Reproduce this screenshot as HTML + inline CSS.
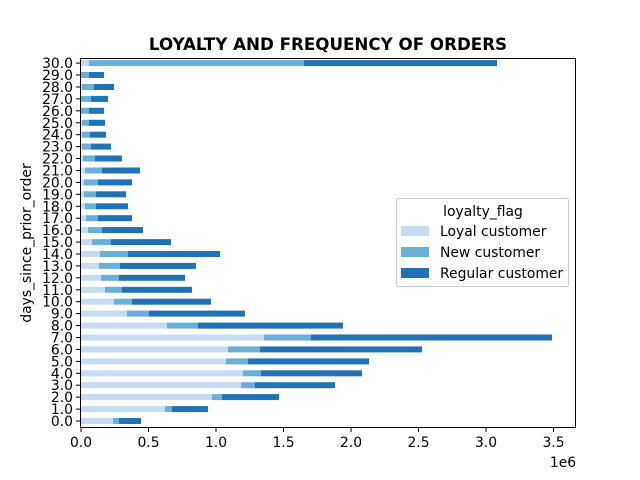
<!DOCTYPE html>
<html><head><meta charset="utf-8"><style>body{margin:0;background:#fff}svg{display:block}text{font-family:"DejaVu Sans","Liberation Sans",sans-serif;fill:#000}</style></head>
<body>
<svg width="640" height="480" xmlns="http://www.w3.org/2000/svg">
<rect width="640" height="480" fill="#fff"/>
<g>
<g transform="translate(0,418)"><rect x="81" width="32" height="6" fill="#c6dbef"/><rect x="113" width="6" height="6" fill="#6baed6"/><rect x="119" width="22" height="6" fill="#2171b5"/></g>
<g transform="translate(0,406.1)"><rect x="81" width="84" height="6" fill="#c6dbef"/><rect x="165" width="7" height="6" fill="#6baed6"/><rect x="172" width="36" height="6" fill="#2171b5"/></g>
<g transform="translate(0,394.1)"><rect x="81" width="131" height="6" fill="#c6dbef"/><rect x="212" width="10" height="6" fill="#6baed6"/><rect x="222" width="57" height="6" fill="#2171b5"/></g>
<g transform="translate(0,382.2)"><rect x="81" width="160" height="6" fill="#c6dbef"/><rect x="241" width="14" height="6" fill="#6baed6"/><rect x="255" width="80" height="6" fill="#2171b5"/></g>
<g transform="translate(0,370.3)"><rect x="81" width="162" height="6" fill="#c6dbef"/><rect x="243" width="18" height="6" fill="#6baed6"/><rect x="261" width="101" height="6" fill="#2171b5"/></g>
<g transform="translate(0,358.4)"><rect x="81" width="145" height="6" fill="#c6dbef"/><rect x="226" width="22" height="6" fill="#6baed6"/><rect x="248" width="121" height="6" fill="#2171b5"/></g>
<g transform="translate(0,346.4)"><rect x="81" width="147" height="6" fill="#c6dbef"/><rect x="228" width="32" height="6" fill="#6baed6"/><rect x="260" width="162" height="6" fill="#2171b5"/></g>
<g transform="translate(0,334.5)"><rect x="81" width="183" height="6" fill="#c6dbef"/><rect x="264" width="47" height="6" fill="#6baed6"/><rect x="311" width="241" height="6" fill="#2171b5"/></g>
<g transform="translate(0,322.6)"><rect x="81" width="86" height="6" fill="#c6dbef"/><rect x="167" width="31" height="6" fill="#6baed6"/><rect x="198" width="145" height="6" fill="#2171b5"/></g>
<g transform="translate(0,310.6)"><rect x="81" width="46" height="6" fill="#c6dbef"/><rect x="127" width="22" height="6" fill="#6baed6"/><rect x="149" width="96" height="6" fill="#2171b5"/></g>
<g transform="translate(0,298.7)"><rect x="81" width="33" height="6" fill="#c6dbef"/><rect x="114" width="18" height="6" fill="#6baed6"/><rect x="132" width="79" height="6" fill="#2171b5"/></g>
<g transform="translate(0,286.8)"><rect x="81" width="24" height="6" fill="#c6dbef"/><rect x="105" width="17" height="6" fill="#6baed6"/><rect x="122" width="70" height="6" fill="#2171b5"/></g>
<g transform="translate(0,274.8)"><rect x="81" width="20" height="6" fill="#c6dbef"/><rect x="101" width="18" height="6" fill="#6baed6"/><rect x="119" width="66" height="6" fill="#2171b5"/></g>
<g transform="translate(0,262.9)"><rect x="81" width="18" height="6" fill="#c6dbef"/><rect x="99" width="21" height="6" fill="#6baed6"/><rect x="120" width="76" height="6" fill="#2171b5"/></g>
<g transform="translate(0,251)"><rect x="81" width="19" height="6" fill="#c6dbef"/><rect x="100" width="28" height="6" fill="#6baed6"/><rect x="128" width="92" height="6" fill="#2171b5"/></g>
<g transform="translate(0,239.1)"><rect x="81" width="11" height="6" fill="#c6dbef"/><rect x="92" width="19" height="6" fill="#6baed6"/><rect x="111" width="60" height="6" fill="#2171b5"/></g>
<g transform="translate(0,227.1)"><rect x="81" width="7" height="6" fill="#c6dbef"/><rect x="88" width="14" height="6" fill="#6baed6"/><rect x="102" width="41" height="6" fill="#2171b5"/></g>
<g transform="translate(0,215.2)"><rect x="81" width="5" height="6" fill="#c6dbef"/><rect x="86" width="12" height="6" fill="#6baed6"/><rect x="98" width="34" height="6" fill="#2171b5"/></g>
<g transform="translate(0,203.3)"><rect x="81" width="4" height="6" fill="#c6dbef"/><rect x="85" width="11" height="6" fill="#6baed6"/><rect x="96" width="32" height="6" fill="#2171b5"/></g>
<g transform="translate(0,191.3)"><rect x="81" width="3" height="6" fill="#c6dbef"/><rect x="84" width="12" height="6" fill="#6baed6"/><rect x="96" width="30" height="6" fill="#2171b5"/></g>
<g transform="translate(0,179.4)"><rect x="81" width="3" height="6" fill="#c6dbef"/><rect x="84" width="14" height="6" fill="#6baed6"/><rect x="98" width="34" height="6" fill="#2171b5"/></g>
<g transform="translate(0,167.5)"><rect x="81" width="4" height="6" fill="#c6dbef"/><rect x="85" width="17" height="6" fill="#6baed6"/><rect x="102" width="38" height="6" fill="#2171b5"/></g>
<g transform="translate(0,155.5)"><rect x="81" width="2" height="6" fill="#c6dbef"/><rect x="83" width="12" height="6" fill="#6baed6"/><rect x="95" width="27" height="6" fill="#2171b5"/></g>
<g transform="translate(0,143.6)"><rect x="81" width="1" height="6" fill="#c6dbef"/><rect x="82" width="9" height="6" fill="#6baed6"/><rect x="91" width="20" height="6" fill="#2171b5"/></g>
<g transform="translate(0,131.7)"><rect x="81" width="1" height="6" fill="#c6dbef"/><rect x="82" width="8" height="6" fill="#6baed6"/><rect x="90" width="16" height="6" fill="#2171b5"/></g>
<g transform="translate(0,119.8)"><rect x="81" width="1" height="6" fill="#c6dbef"/><rect x="82" width="7" height="6" fill="#6baed6"/><rect x="89" width="16" height="6" fill="#2171b5"/></g>
<g transform="translate(0,107.8)"><rect x="81" width="8" height="6" fill="#6baed6"/><rect x="89" width="15" height="6" fill="#2171b5"/></g>
<g transform="translate(0,95.9)"><rect x="81" width="10" height="6" fill="#6baed6"/><rect x="91" width="17" height="6" fill="#2171b5"/></g>
<g transform="translate(0,84)"><rect x="81" width="1" height="6" fill="#c6dbef"/><rect x="82" width="12" height="6" fill="#6baed6"/><rect x="94" width="20" height="6" fill="#2171b5"/></g>
<g transform="translate(0,72)"><rect x="81" width="8" height="6" fill="#6baed6"/><rect x="89" width="15" height="6" fill="#2171b5"/></g>
<g transform="translate(0,60.1)"><rect x="81" width="8" height="6" fill="#c6dbef"/><rect x="89" width="215" height="6" fill="#6baed6"/><rect x="304" width="193" height="6" fill="#2171b5"/></g>
</g>
<text x="328" y="50" font-size="16.7" font-weight="bold" text-anchor="middle">LOYALTY AND FREQUENCY OF ORDERS</text>
<text transform="translate(31,243) rotate(-90)" font-size="13.9" text-anchor="middle">days_since_prior_order</text>
<g stroke="#000">
<line x1="81" x2="81" y1="428" y2="432"/><line x1="148.5" x2="148.5" y1="428" y2="432"/><line x1="216" x2="216" y1="428" y2="432"/><line x1="283.5" x2="283.5" y1="428" y2="432"/><line x1="351" x2="351" y1="428" y2="432"/><line x1="418.5" x2="418.5" y1="428" y2="432"/><line x1="486" x2="486" y1="428" y2="432"/><line x1="553.5" x2="553.5" y1="428" y2="432"/>
</g>
<g font-size="13.9" text-anchor="middle">
<text x="81" y="447">0.0</text><text x="148.5" y="447">0.5</text><text x="216" y="447">1.0</text><text x="283.5" y="447">1.5</text><text x="351" y="447">2.0</text><text x="418.5" y="447">2.5</text><text x="486" y="447">3.0</text><text x="553.5" y="447">3.5</text>
</g>
<text x="563" y="467" font-size="13.9" text-anchor="middle">1e6</text>
<g stroke="#000">
<line x1="76" x2="80" y1="421" y2="421"/><line x1="76" x2="80" y1="409.1" y2="409.1"/><line x1="76" x2="80" y1="397.1" y2="397.1"/><line x1="76" x2="80" y1="385.2" y2="385.2"/><line x1="76" x2="80" y1="373.3" y2="373.3"/><line x1="76" x2="80" y1="361.4" y2="361.4"/><line x1="76" x2="80" y1="349.4" y2="349.4"/><line x1="76" x2="80" y1="337.5" y2="337.5"/><line x1="76" x2="80" y1="325.6" y2="325.6"/><line x1="76" x2="80" y1="313.6" y2="313.6"/><line x1="76" x2="80" y1="301.7" y2="301.7"/><line x1="76" x2="80" y1="289.8" y2="289.8"/><line x1="76" x2="80" y1="277.8" y2="277.8"/><line x1="76" x2="80" y1="265.9" y2="265.9"/><line x1="76" x2="80" y1="254" y2="254"/><line x1="76" x2="80" y1="242.1" y2="242.1"/><line x1="76" x2="80" y1="230.1" y2="230.1"/><line x1="76" x2="80" y1="218.2" y2="218.2"/><line x1="76" x2="80" y1="206.3" y2="206.3"/><line x1="76" x2="80" y1="194.3" y2="194.3"/><line x1="76" x2="80" y1="182.4" y2="182.4"/><line x1="76" x2="80" y1="170.5" y2="170.5"/><line x1="76" x2="80" y1="158.5" y2="158.5"/><line x1="76" x2="80" y1="146.6" y2="146.6"/><line x1="76" x2="80" y1="134.7" y2="134.7"/><line x1="76" x2="80" y1="122.8" y2="122.8"/><line x1="76" x2="80" y1="110.8" y2="110.8"/><line x1="76" x2="80" y1="98.9" y2="98.9"/><line x1="76" x2="80" y1="87" y2="87"/><line x1="76" x2="80" y1="75" y2="75"/><line x1="76" x2="80" y1="63.1" y2="63.1"/>
</g>
<g font-size="13.9" text-anchor="end">
<text x="73" y="426">0.0</text><text x="73" y="414.1">1.0</text><text x="73" y="402.1">2.0</text><text x="73" y="390.2">3.0</text><text x="73" y="378.3">4.0</text><text x="73" y="366.4">5.0</text><text x="73" y="354.4">6.0</text><text x="73" y="342.5">7.0</text><text x="73" y="330.6">8.0</text><text x="73" y="318.6">9.0</text><text x="73" y="306.7">10.0</text><text x="73" y="294.8">11.0</text><text x="73" y="282.8">12.0</text><text x="73" y="270.9">13.0</text><text x="73" y="259">14.0</text><text x="73" y="247.1">15.0</text><text x="73" y="235.1">16.0</text><text x="73" y="223.2">17.0</text><text x="73" y="211.3">18.0</text><text x="73" y="199.3">19.0</text><text x="73" y="187.4">20.0</text><text x="73" y="175.5">21.0</text><text x="73" y="163.5">22.0</text><text x="73" y="151.6">23.0</text><text x="73" y="139.7">24.0</text><text x="73" y="127.8">25.0</text><text x="73" y="115.8">26.0</text><text x="73" y="103.9">27.0</text><text x="73" y="92">28.0</text><text x="73" y="80">29.0</text><text x="73" y="68.1">30.0</text>
</g>
<rect x="80.5" y="58.5" width="495" height="369" fill="none" stroke="#000" stroke-width="1"/>
<rect x="396.5" y="198.5" width="172" height="88" rx="2" fill="#fff" fill-opacity="0.8" stroke="#ccc"/>
<text x="483" y="216" font-size="13.9" text-anchor="middle">loyalty_flag</text>
<rect x="401" y="226" width="28" height="10" fill="#c6dbef"/><text x="440" y="236" font-size="13.9">Loyal customer</text>
<rect x="401" y="247" width="28" height="10" fill="#6baed6"/><text x="440" y="257" font-size="13.9">New customer</text>
<rect x="401" y="268" width="28" height="10" fill="#2171b5"/><text x="440" y="278" font-size="13.9">Regular customer</text>
</svg>
</body></html>
